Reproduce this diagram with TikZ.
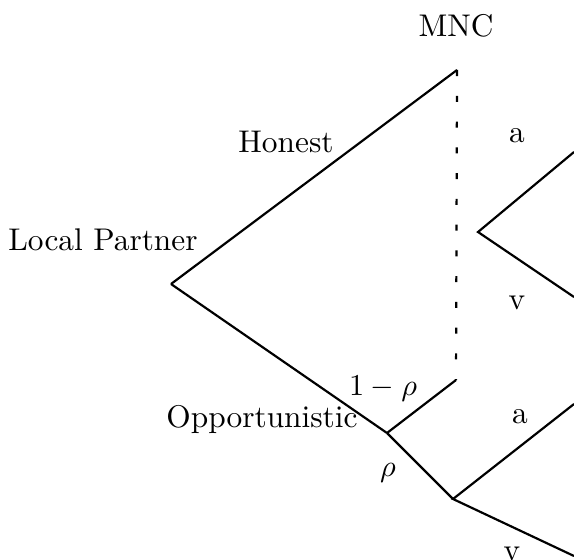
\documentclass[tikz,border=0pt]{standalone}
\begin{document}
\begin{tikzpicture}[x=0.33pt,y=-0.33pt,
  edge/.style={line width=0.72pt},
  info/.style={line width=0.72pt,dash pattern=on 2pt off 6.5pt},
  lbl/.style={inner sep=0pt,anchor=base,font=\fontsize{10.35pt}{12pt}\selectfont}]
\useasboundingbox (0,0) rectangle (574,559);
\coordinate (lp) at (171,284);
\coordinate (mncH) at (457,70);
\coordinate (mncO) at (456,380);
\coordinate (nat) at (387,433);
\coordinate (up) at (478,232);
\coordinate (upa) at (574,152);
\coordinate (upv) at (574,297);
\coordinate (lo) at (453,499);
\coordinate (loa) at (574,404);
\coordinate (lov) at (574,556);
\draw[edge] (lp) -- (mncH);
\draw[edge] (lp) -- (nat);
\draw[info] (mncH) -- (mncO);
\draw[edge] (nat) -- (mncO);
\draw[edge] (nat) -- (lo);
\draw[edge] (upa) -- (up) -- (upv);
\draw[edge] (loa) -- (lo) -- (lov);
\node[lbl] (tMNC) at (456,37) {MNC};
\node[lbl] (tH) at (286,152) {Honest};
\node[lbl] (tLP) at (103,250) {Local Partner};
\node[lbl] (tO) at (262,427) {Opportunistic};
\node[lbl] (t1r) at (383,395) {$1-\rho$};
\node[lbl] (tr) at (388,476) {$\rho$};
\node[lbl] (ta1) at (517,143) {a};
\node[lbl] (tv1) at (517,309) {v};
\node[lbl] (ta2) at (520,423) {a};
\node[lbl] (tv2) at (512,560) {v};
\end{tikzpicture}
\end{document}
